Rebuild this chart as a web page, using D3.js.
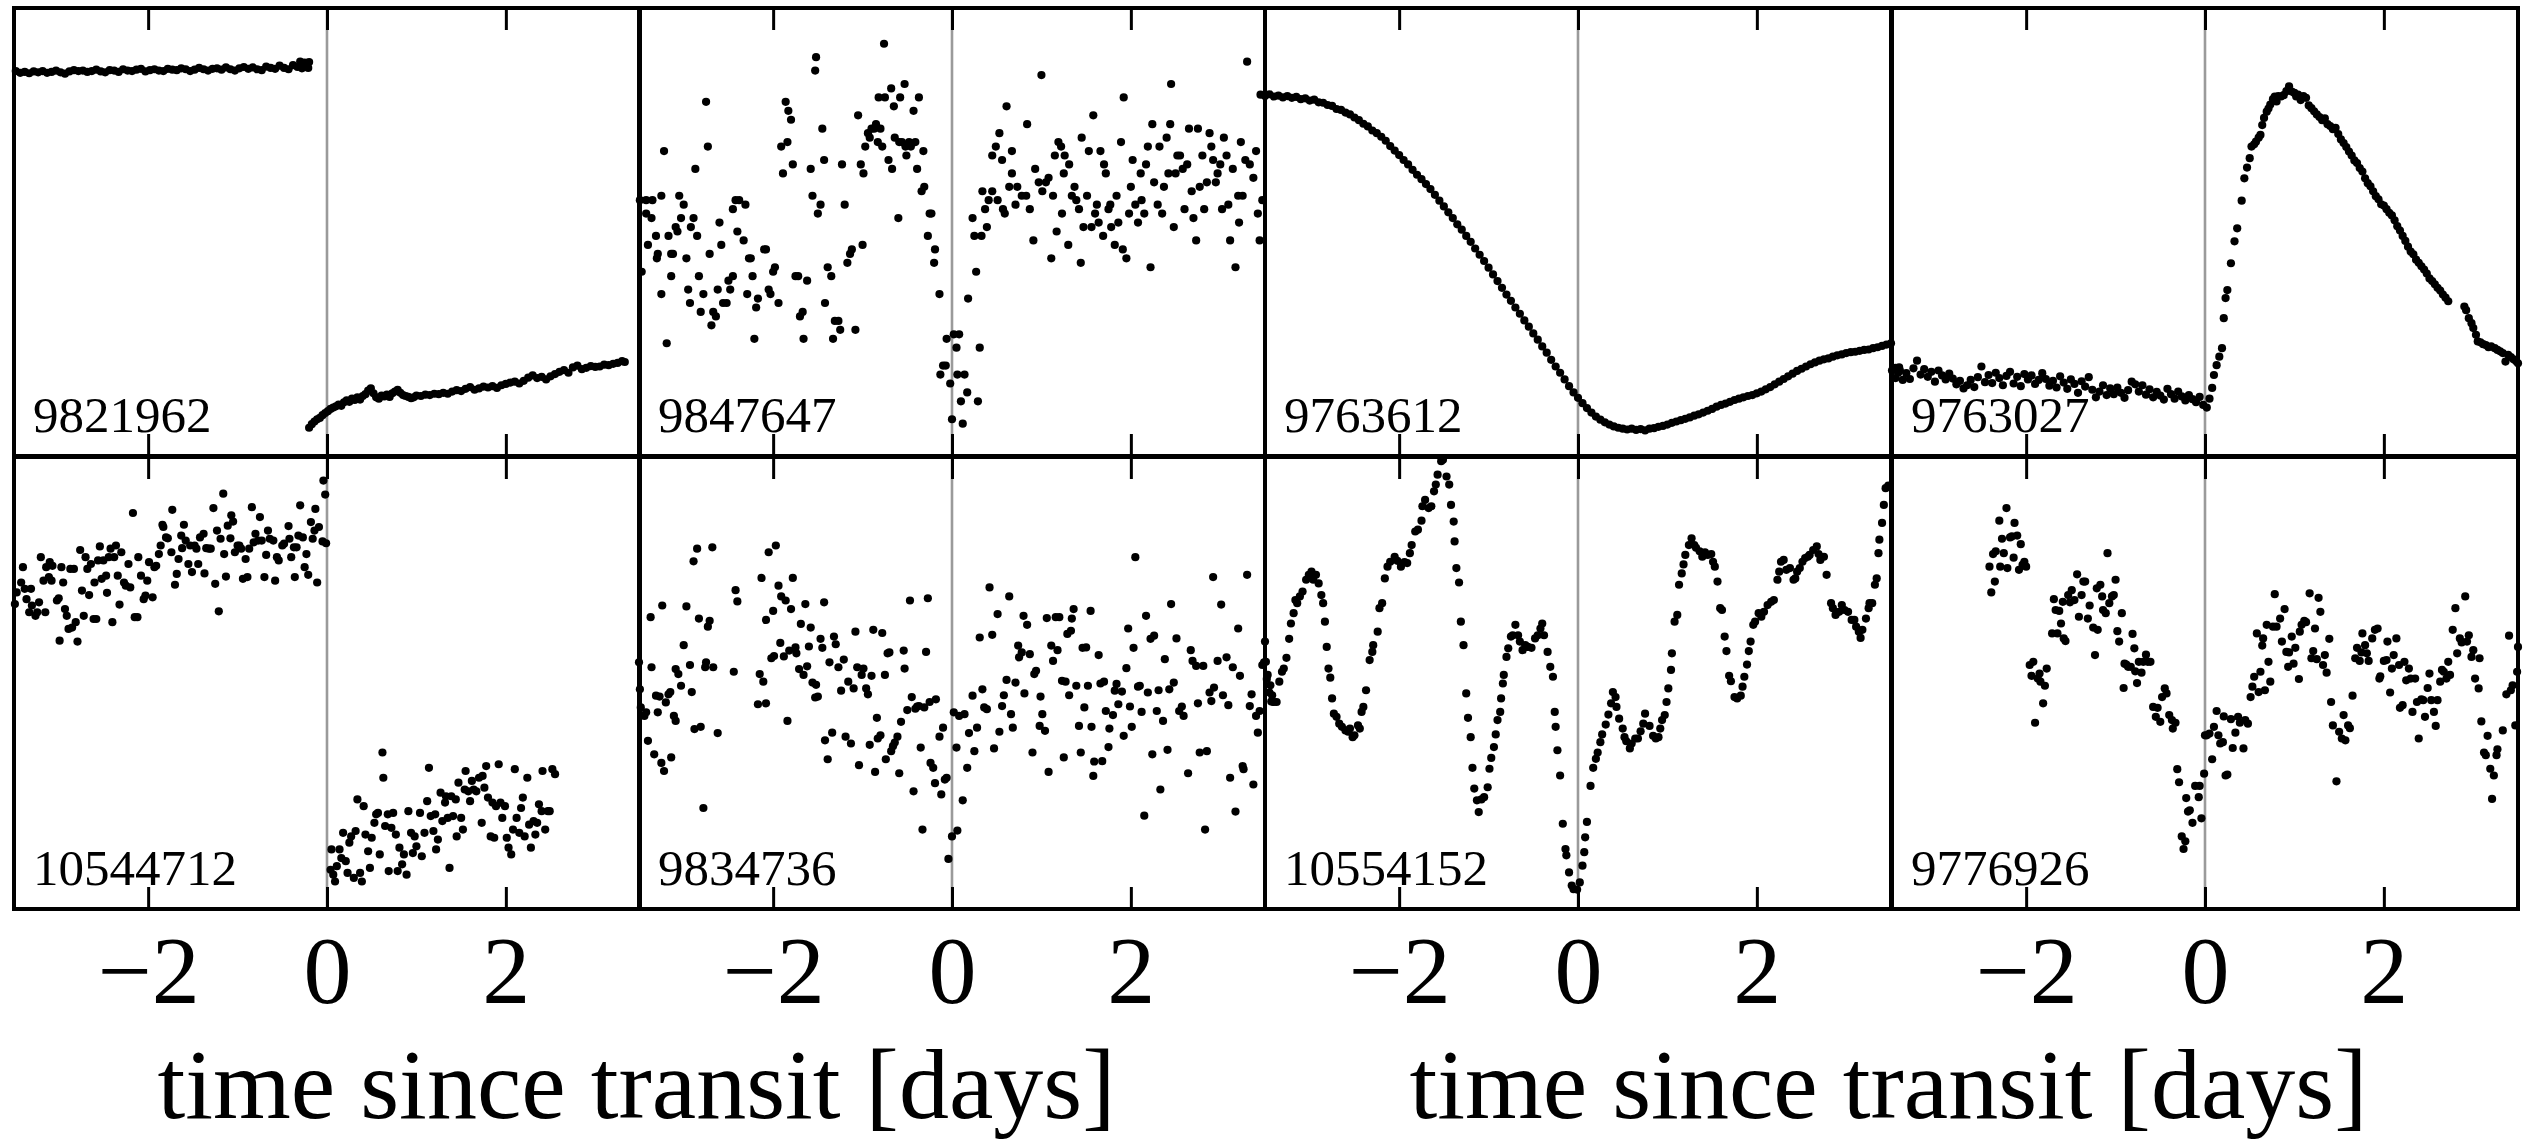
<!DOCTYPE html>
<html><head><meta charset="utf-8">
<script src="https://cdn.jsdelivr.net/npm/d3@7"></script>
<style>
html,body{margin:0;padding:0;background:#fff;}
svg{display:block;}
</style></head>
<body>
<svg id="chart" width="2536" height="1143"></svg>
<script>
// ---------------- DATA ----------------
// x: time since transit [days]; y: normalized flux (0 = panel bottom, 100 = panel top)
const tickValues = [-2, 0, 2];
const xLabel = "time since transit [days]";
const panelIds = ["9821962","9847647","9763612","9763027","10544712","9834736","10554152","9776926"];

const kic9821962 = [
[-3.48,85.9],[-3.43,85.5],[-3.38,85.7],[-3.33,85.4],[-3.28,85.8],[-3.23,85.6],[-3.18,85.9],[-3.13,85.5],[-3.08,85.7],[-3.03,86.0],[-2.98,85.6],[-2.93,85.3],[-2.88,85.8],[-2.83,86.1],[-2.78,85.9],[-2.73,86.0],[-2.68,85.7],[-2.63,85.9],[-2.58,86.2],[-2.53,85.8],[-2.48,85.6],[-2.43,86.1],[-2.38,86.0],[-2.33,85.7],[-2.28,86.3],[-2.23,86.0],[-2.18,85.9],[-2.13,86.2],[-2.08,86.4],[-2.03,85.8],[-1.98,86.1],[-1.93,86.3],[-1.88,86.0],[-1.83,85.9],[-1.78,86.4],[-1.73,86.2],[-1.68,86.1],[-1.63,86.5],[-1.58,86.3],[-1.53,85.9],[-1.48,86.2],[-1.43,86.6],[-1.38,86.3],[-1.33,86.0],[-1.28,86.4],[-1.23,86.5],[-1.18,86.2],[-1.13,86.7],[-1.08,86.3],[-1.03,86.0],[-0.98,86.5],[-0.93,86.8],[-0.88,86.4],[-0.83,86.7],[-0.78,86.3],[-0.73,86.1],[-0.68,86.9],[-0.63,86.6],[-0.58,86.4],[-0.53,87.1],[-0.48,86.6],[-0.43,86.3],[-0.38,87.2],[-0.33,86.8],[-0.30,88.0],[-0.28,86.5],[-0.25,87.8],[-0.23,87.3],[-0.21,86.6],[-0.20,87.9],
[-0.20,6.1],[-0.17,6.9],[-0.14,7.5],[-0.11,8.0],[-0.08,8.3],[-0.05,8.9],[-0.02,9.4],[0.01,9.8],[0.04,10.3],[0.07,10.6],[0.10,10.9],[0.13,11.3],[0.16,11.0],[0.19,11.8],[0.22,12.2],[0.25,11.9],[0.28,12.6],[0.31,12.3],[0.34,12.9],[0.37,12.4],[0.40,13.2],[0.43,13.6],[0.46,14.4],[0.49,14.9],[0.52,13.8],[0.55,12.9],[0.58,12.6],[0.61,13.3],[0.64,13.1],[0.67,13.5],[0.70,13.0],[0.73,13.8],[0.76,14.2],[0.79,14.6],[0.82,13.9],[0.85,13.4],[0.88,13.2],[0.91,13.0],[0.94,12.7],[0.97,12.9],[1.00,13.3],[1.05,13.2],[1.10,13.5],[1.15,13.4],[1.20,13.7],[1.25,13.6],[1.30,13.9],[1.35,13.7],[1.40,14.2],[1.45,14.5],[1.50,14.3],[1.55,14.8],[1.60,15.2],[1.65,14.6],[1.70,14.9],[1.75,15.3],[1.80,15.1],[1.85,15.4],[1.90,15.0],[1.95,15.6],[2.00,15.9],[2.05,16.2],[2.10,16.4],[2.15,16.0],[2.20,16.6],[2.25,17.3],[2.30,17.8],[2.35,17.2],[2.40,17.5],[2.45,16.9],[2.50,17.6],[2.55,18.1],[2.60,18.6],[2.65,19.0],[2.70,18.4],[2.75,19.6],[2.80,20.0],[2.85,19.2],[2.90,19.5],[2.95,19.9],[3.00,19.7],[3.05,19.8],[3.10,20.2],[3.15,20.1],[3.20,20.4],[3.25,20.6],[3.30,21.0],[3.33,20.8]
];

const kic9847647 = [
[-3.49,57],[-3.47,41],[-3.42,57],[-3.35,57],[-3.42,54],[-3.36,53],[-3.40,47],[-3.31,49],[-3.29,45],[-3.30,44],[-3.25,58],[-3.25,36],[-3.22,68],[-3.19,25],[-3.17,49],[-3.14,45],[-3.12,45],[-3.14,40],[-3.09,51],[-3.07,50],[-3.05,58],[-3.03,53],[-3.00,56],[-2.97,44],[-2.95,37],[-2.93,34],[-2.92,51],[-2.89,53],[-2.87,64],[-2.85,49],[-2.83,40],[-2.81,32],[-2.78,36],[-2.75,79],[-2.73,69],[-2.71,45],[-2.69,29],[-2.67,32],[-2.64,31],[-2.62,37],[-2.60,52],[-2.58,47],[-2.56,34],[-2.52,34],[-2.50,39],[-2.48,37],[-2.45,40],[-2.45,55],[-2.42,57],[-2.38,57],[-2.40,50],[-2.33,48],[-2.31,56],[-2.29,36],[-2.27,44],[-2.25,44],[-2.23,40],[-2.21,26],[-2.19,33],[-2.17,35],[-2.10,46],[-2.08,46],[-2.05,37],[-2.03,36],[-2.00,41],[-1.98,42],[-1.94,34],[-1.91,69],[-1.89,63],[-1.86,79],[-1.84,70],[-1.83,77],[-1.80,75],[-1.78,65],[-1.75,40],[-1.72,40],[-1.70,31],[-1.67,32],[-1.66,26],[-1.62,39],[-1.58,64],[-1.56,58],[-1.53,86],[-1.52,89],[-1.50,54],[-1.47,56],[-1.45,73],[-1.43,66],[-1.42,34],[-1.39,42],[-1.35,40],[-1.33,26],[-1.31,30],[-1.27,30],[-1.25,28],[-1.23,65],[-1.20,56],[-1.17,43],[-1.14,45],[-1.12,46],[-1.08,28],[-1.05,76],[-1.02,65],[-1.00,47],[-0.99,63],[-0.97,69],[-0.94,72],[-0.92,71],[-0.90,73],[-0.87,73],[-0.85,74],[-0.83,70],[-0.82,80],[-0.80,73],[-0.78,69],[-0.76,92],[-0.75,80],[-0.71,66],[-0.68,82],[-0.67,64],[-0.65,78],[-0.64,71],[-0.60,53],[-0.59,70],[-0.58,80],[-0.56,70],[-0.53,83],[-0.52,69],[-0.51,67],[-0.48,70],[-0.46,69],[-0.43,77],[-0.41,70],[-0.39,64],[-0.37,80],[-0.34,59],[-0.32,68],[-0.31,60],[-0.27,49],[-0.25,54],[-0.23,54],[-0.20,43],[-0.19,46],[-0.14,36],[-0.13,18],[-0.10,20],[-0.07,20],[-0.06,26],[-0.02,16],[0.00,8],[0.02,27],[0.05,24],[0.06,18],[0.08,27],[0.10,12],[0.12,7],[0.14,18],[0.17,14],[0.18,35],[0.23,53],[0.25,49],[0.27,41],[0.29,12],[0.31,24],[0.33,49],
[0.34,59],[0.37,55],[0.39,51],[0.41,57],[0.45,59],[0.45,67],[0.49,69],[0.51,57],[0.53,72],[0.56,66],[0.57,55],[0.59,54],[0.61,78],[0.64,60],[0.67,68],[0.67,63],[0.71,56],[0.73,60],[0.78,58],[0.83,58],[0.84,74],[0.87,55],[0.91,48],[0.93,64],[0.97,61],[1.00,85],[1.01,59],[1.05,61],[1.08,62],[1.11,44],[1.13,58],[1.15,67],[1.17,50],[1.19,70],[1.22,69],[1.23,54],[1.25,63],[1.26,67],[1.30,47],[1.31,65],[1.34,58],[1.37,60],[1.39,57],[1.42,55],[1.44,43],[1.45,71],[1.47,51],[1.51,58],[1.53,68],[1.56,51],[1.58,76],[1.60,54],[1.62,56],[1.64,52],[1.66,68],[1.69,49],[1.70,65],[1.72,63],[1.75,55],[1.77,56],[1.78,51],[1.82,47],[1.84,58],[1.86,52],[1.89,70],[1.91,46],[1.92,80],[1.95,44],[1.98,54],[2.00,60],[2.02,66],[2.05,56],[2.08,52],[2.11,63],[2.12,57],[2.15,54],[2.17,65],[2.19,69],[2.22,42],[2.24,74],[2.26,61],[2.30,56],[2.32,69],[2.35,54],[2.37,60],[2.40,71],[2.42,63],[2.44,74],[2.45,83],[2.48,51],[2.50,63],[2.52,67],[2.55,67],[2.58,64],[2.60,55],[2.63,65],[2.65,73],[2.68,59],[2.70,53],[2.73,48],[2.75,73],[2.77,60],[2.80,67],[2.82,55],[2.85,61],[2.88,72],[2.90,69],[2.92,66],[2.95,61],[2.97,63],[3.00,65],[3.02,55],[3.04,71],[3.07,67],[3.09,56],[3.11,48],[3.14,64],[3.17,42],[3.20,58],[3.21,52],[3.23,70],[3.25,58],[3.28,66],[3.30,88],[3.33,65],[3.37,62],[3.40,68],[3.42,54],[3.44,48],[3.47,57]
];

const kic9763612 = [
[-3.55,80.6],[-3.50,80.3],[-3.45,80.7],[-3.40,80.2],[-3.35,80.4],[-3.30,80.0],[-3.25,80.3],[-3.20,79.9],[-3.15,80.1],[-3.10,79.6],[-3.05,79.8],[-3.00,79.3],[-2.95,79.5],[-2.90,78.9],[-2.85,78.8],[-2.80,78.3],[-2.75,78.1],[-2.70,77.4],[-2.65,77.2],[-2.60,76.6],[-2.55,76.2],[-2.50,75.5],[-2.45,74.9],[-2.40,74.1],[-2.35,73.5],[-2.30,72.6],[-2.25,72.0],[-2.20,71.2],[-2.15,70.3],[-2.10,69.1],[-2.05,68.1],[-2.00,67.1],[-1.95,66.0],[-1.90,65.0],[-1.85,63.8],[-1.80,62.7],[-1.75,61.7],[-1.70,60.6],[-1.65,59.5],[-1.60,58.2],[-1.55,56.9],[-1.50,55.6],[-1.45,54.3],[-1.40,53.0],[-1.35,51.6],[-1.30,50.4],[-1.25,49.0],[-1.20,47.7],[-1.15,46.2],[-1.10,44.8],[-1.05,43.4],[-1.00,41.9],[-0.95,40.4],[-0.90,38.9],[-0.85,37.4],[-0.80,35.9],[-0.75,34.5],[-0.70,33.0],[-0.65,31.6],[-0.60,30.1],[-0.55,28.7],[-0.50,27.2],[-0.45,25.8],[-0.40,24.3],[-0.35,22.9],[-0.30,21.3],[-0.25,19.8],[-0.20,18.4],[-0.15,16.9],[-0.10,15.4],[-0.05,14.0],[0.00,12.8],[0.05,11.6],[0.10,10.5],[0.15,9.5],[0.20,8.6],[0.25,7.9],[0.30,7.3],[0.35,6.8],[0.40,6.4],[0.45,6.1],[0.50,5.9],[0.55,5.7],[0.60,5.9],[0.65,5.6],[0.70,5.8],[0.75,5.5],[0.80,5.9],[0.85,6.0],[0.90,6.3],[0.95,6.5],[1.00,6.8],[1.05,7.2],[1.10,7.5],[1.15,7.8],[1.20,8.1],[1.25,8.4],[1.30,8.8],[1.35,9.1],[1.40,9.5],[1.45,9.9],[1.50,10.3],[1.55,10.8],[1.60,11.2],[1.65,11.5],[1.70,11.9],[1.75,12.3],[1.80,12.6],[1.85,12.9],[1.90,13.2],[1.95,13.4],[2.00,13.8],[2.05,14.2],[2.10,14.7],[2.15,15.2],[2.20,15.8],[2.25,16.4],[2.30,17.0],[2.35,17.6],[2.40,18.2],[2.45,18.8],[2.50,19.3],[2.55,19.8],[2.60,20.3],[2.65,20.7],[2.70,21.1],[2.75,21.4],[2.80,21.6],[2.85,22.0],[2.90,22.3],[2.95,22.5],[3.00,22.8],[3.05,23.0],[3.10,23.1],[3.15,23.3],[3.20,23.5],[3.25,23.6],[3.30,23.9],[3.35,24.1],[3.40,24.4],[3.45,24.7],[3.50,25.0],[3.55,19.5],[3.58,18.4],[3.60,18.9]
];

const kic9763027 = [
[-3.50,18.9],[-3.46,17.2],[-3.42,19.6],[-3.38,16.8],[-3.34,18.3],[-3.30,17.0],[-3.26,19.4],[-3.22,21.1],[-3.18,18.0],[-3.14,19.2],[-3.10,17.5],[-3.06,18.6],[-3.02,16.4],[-2.98,18.9],[-2.94,17.8],[-2.90,16.9],[-2.86,18.2],[-2.82,17.1],[-2.78,15.8],[-2.74,16.6],[-2.70,14.9],[-2.66,15.6],[-2.62,16.8],[-2.58,15.2],[-2.54,17.4],[-2.50,19.8],[-2.46,16.3],[-2.42,17.9],[-2.38,16.1],[-2.34,18.4],[-2.30,17.2],[-2.26,15.6],[-2.22,17.7],[-2.18,18.6],[-2.14,16.0],[-2.10,17.5],[-2.06,15.4],[-2.02,18.1],[-1.98,16.9],[-1.94,17.8],[-1.90,15.9],[-1.86,16.8],[-1.82,18.3],[-1.78,17.0],[-1.74,15.5],[-1.70,16.6],[-1.66,15.1],[-1.62,17.6],[-1.58,16.2],[-1.54,14.8],[-1.50,16.9],[-1.46,15.9],[-1.42,13.9],[-1.38,16.5],[-1.34,15.3],[-1.30,17.4],[-1.26,14.6],[-1.22,12.9],[-1.18,14.2],[-1.14,15.6],[-1.10,13.4],[-1.06,14.9],[-1.02,13.6],[-0.98,15.1],[-0.94,13.9],[-0.90,12.8],[-0.86,14.5],[-0.82,16.4],[-0.78,15.8],[-0.74,14.2],[-0.70,15.6],[-0.66,13.5],[-0.62,14.7],[-0.58,12.9],[-0.54,14.1],[-0.50,13.3],[-0.46,12.4],[-0.42,14.8],[-0.38,13.6],[-0.34,12.6],[-0.30,14.2],[-0.26,13.1],[-0.22,12.2],[-0.18,13.4],[-0.14,12.5],[-0.10,11.8],[-0.06,13.0],[-0.02,11.2],[0.02,10.6],[0.05,12.6],
[0.08,15.0],[0.10,17.9],[0.13,20.1],[0.16,22.0],[0.19,23.9],[0.21,30.6],[0.23,35.1],[0.25,36.9],[0.29,42.9],[0.33,47.8],[0.36,50.7],[0.41,56.9],[0.44,61.9],[0.47,64.3],[0.50,66.4],[0.52,69.0],[0.55,69.5],[0.57,70.1],[0.60,71.0],[0.62,71.6],[0.64,73.8],[0.66,75.4],[0.69,76.8],[0.71,77.5],[0.73,78.4],[0.76,79.6],[0.78,80.2],[0.80,79.1],[0.82,80.3],[0.85,80.2],[0.88,80.5],[0.91,81.4],[0.94,82.5],[0.97,81.3],[1.00,81.0],[1.02,80.2],[1.04,80.6],[1.07,79.4],[1.10,80.3],[1.13,79.9],[1.16,78.2],[1.19,77.6],[1.22,76.9],[1.25,76.2],[1.28,75.6],[1.31,74.9],[1.34,75.3],[1.37,74.0],[1.40,73.6],[1.43,72.9],[1.46,73.2],[1.49,71.8],[1.52,70.6],[1.55,69.8],[1.58,68.9],[1.61,67.9],[1.64,67.0],[1.67,65.9],[1.70,65.3],[1.73,64.2],[1.76,63.4],[1.79,61.9],[1.82,60.8],[1.85,60.1],[1.88,59.0],[1.91,57.9],[1.94,57.2],[1.97,56.1],[2.00,55.8],[2.03,55.0],[2.06,54.2],[2.09,53.6],[2.12,52.5],[2.15,51.2],[2.18,50.2],[2.21,49.0],[2.24,47.9],[2.27,46.6],[2.30,45.5],[2.33,44.9],[2.36,43.7],[2.39,43.0],[2.42,42.2],[2.45,41.5],[2.48,40.6],[2.51,39.5],[2.54,38.9],[2.57,38.2],[2.60,37.4],[2.63,36.8],[2.66,35.9],[2.69,35.2],[2.72,34.4],[2.90,33.2],[2.92,32.4],[2.95,30.6],[2.98,29.5],[3.00,28.4],[3.03,26.9],[3.05,25.4],[3.08,25.2],[3.11,24.8],[3.14,24.6],[3.17,24.1],[3.20,24.3],[3.24,23.9],[3.27,23.5],[3.30,23.2],[3.33,22.8],[3.36,20.9],[3.39,22.4],[3.42,21.9],[3.45,21.4],[3.48,21.0],[3.50,20.5]
];

const kic10544712 = [
[-3.49,67.6],[-3.47,70.2],[-3.42,72.4],[-3.40,75.8],[-3.38,71.0],[-3.36,68.7],[-3.33,65.8],[-3.31,71.0],[-3.30,67.3],[-3.26,65.0],[-3.24,65.8],[-3.22,68.0],[-3.20,78.0],[-3.17,72.8],[-3.15,65.8],[-3.14,75.8],[-3.11,73.6],[-3.10,76.9],[-3.08,72.8],[-3.07,76.1],[-3.02,68.4],[-3.00,68.9],[-2.99,59.5],[-2.97,75.8],[-2.95,72.4],[-2.93,66.5],[-2.91,65.0],[-2.89,62.1],[-2.87,75.4],[-2.85,62.4],[-2.83,75.4],[-2.81,63.6],[-2.79,59.3],[-2.76,79.6],[-2.74,70.6],[-2.72,65.0],[-2.70,78.0],[-2.68,75.4],[-2.66,69.6],[-2.64,76.5],[-2.61,64.3],[-2.60,72.4],[-2.58,64.3],[-2.56,77.3],[-2.54,80.4],[-2.52,73.2],[-2.50,77.3],[-2.47,73.9],[-2.46,70.1],[-2.44,78.0],[-2.42,79.9],[-2.40,63.6],[-2.38,78.0],[-2.36,80.6],[-2.34,73.9],[-2.32,67.5],[-2.30,79.1],[-2.27,72.4],[-2.25,71.7],[-2.22,76.5],[-2.20,71.3],[-2.17,87.8],[-2.15,64.7],[-2.12,64.7],[-2.11,78.0],[-2.08,73.9],[-2.05,68.7],[-2.03,69.5],[-2.01,72.8],[-1.99,76.9],[-1.95,69.1],[-1.93,75.8],[-1.91,76.1],[-1.88,78.7],[-1.86,80.6],[-1.84,85.2],[-1.83,84.7],[-1.80,82.4],[-1.78,82.2],[-1.74,79.1],[-1.73,88.5],[-1.70,71.9],[-1.68,74.3],[-1.66,77.6],[-1.63,82.8],[-1.62,80.0],[-1.60,85.2],[-1.58,81.7],[-1.55,76.5],[-1.53,80.6],[-1.51,74.7],[-1.48,80.6],[-1.46,79.9],[-1.44,76.5],[-1.42,82.4],[-1.38,83.2],[-1.37,74.4],[-1.35,80.0],[-1.32,79.9],[-1.30,79.9],[-1.27,88.9],[-1.25,72.1],[-1.23,83.9],[-1.21,66.0],[-1.19,82.1],[-1.16,92.1],[-1.15,78.7],[-1.13,73.7],[-1.11,85.0],[-1.08,82.2],[-1.07,87.3],[-1.05,85.9],[-1.03,79.1],[-1.00,80.6],[-0.98,80.6],[-0.96,79.9],[-0.94,73.2],[-0.91,77.6],[-0.89,73.6],[-0.87,79.9],[-0.84,89.1],[-0.82,81.3],[-0.80,83.2],[-0.77,81.7],[-0.75,86.9],[-0.73,81.7],[-0.70,73.6],[-0.68,78.5],[-0.66,83.9],[-0.64,82.1],[-0.60,81.7],[-0.58,72.8],[-0.56,78.0],[-0.54,77.3],[-0.50,80.6],[-0.48,81.0],[-0.43,84.9],[-0.42,82.1],[-0.40,78.0],[-0.37,80.2],[-0.36,73.6],[-0.34,80.2],[-0.32,82.8],[-0.30,89.5],[-0.27,82.4],[-0.25,75.8],[-0.23,78.7],[-0.21,74.1],[-0.18,85.8],[-0.16,82.1],[-0.14,83.9],[-0.13,88.7],[-0.11,72.4],[-0.09,84.7],[-0.05,81.5],[-0.04,95.0],[-0.02,91.9],[-0.01,81.1],
[0.04,8.7],[0.05,13.2],[0.07,7.6],[0.09,6.1],[0.11,9.5],[0.14,13.2],[0.16,11.3],[0.18,16.9],[0.21,10.6],[0.23,8.0],[0.25,14.7],[0.27,16.1],[0.30,6.9],[0.32,17.3],[0.34,24.3],[0.37,8.0],[0.39,6.1],[0.41,22.8],[0.43,16.5],[0.46,12.8],[0.48,9.1],[0.50,15.8],[0.53,19.1],[0.55,21.0],[0.57,21.3],[0.59,12.1],[0.62,34.7],[0.63,29.1],[0.65,18.4],[0.68,21.0],[0.69,8.4],[0.72,18.0],[0.74,21.3],[0.77,16.5],[0.79,8.4],[0.81,13.6],[0.84,9.9],[0.86,12.1],[0.89,7.6],[0.91,21.7],[0.94,16.9],[0.96,12.4],[0.98,16.1],[1.00,13.9],[1.04,21.3],[1.06,11.7],[1.09,16.9],[1.12,23.9],[1.14,31.3],[1.16,20.6],[1.19,17.3],[1.21,21.0],[1.22,13.2],[1.24,15.4],[1.27,25.8],[1.29,19.5],[1.32,23.6],[1.33,25.0],[1.35,20.2],[1.37,9.1],[1.39,25.0],[1.41,20.6],[1.44,24.3],[1.45,16.1],[1.47,28.0],[1.50,20.2],[1.52,17.6],[1.54,26.5],[1.55,30.6],[1.58,26.1],[1.60,23.9],[1.62,28.4],[1.64,26.5],[1.67,26.1],[1.70,29.1],[1.73,19.1],[1.74,29.5],[1.76,26.9],[1.78,31.7],[1.80,24.7],[1.83,16.1],[1.85,23.6],[1.87,15.8],[1.89,22.8],[1.92,32.1],[1.94,23.6],[1.96,20.2],[1.99,22.8],[2.01,15.8],[2.03,13.6],[2.06,12.1],[2.08,17.6],[2.10,31.0],[2.12,20.2],[2.15,16.9],[2.17,22.4],[2.19,24.7],[2.21,16.1],[2.24,29.1],[2.26,18.7],[2.28,13.6],[2.31,19.5],[2.33,16.5],[2.35,19.1],[2.37,23.2],[2.40,21.7],[2.41,30.6],[2.44,17.6],[2.47,21.7],[2.49,21.7],[2.52,31.0],[2.55,29.9]
];

const kic9834736 = [
[-3.50,54.7],[-3.49,48.7],[-3.48,44.7],[-3.44,42.8],[-3.42,43.6],[-3.40,37.3],[-3.37,64.7],[-3.36,53.6],[-3.33,34.3],[-3.31,47.3],[-3.29,43.6],[-3.27,47.1],[-3.25,32.4],[-3.24,67.3],[-3.22,30.6],[-3.20,45.8],[-3.17,47.6],[-3.15,48.1],[-3.14,33.6],[-3.11,42.8],[-3.09,41.7],[-3.09,53.2],[-3.06,52.1],[-3.03,49.5],[-3.00,58.5],[-2.97,67.1],[-2.93,54.1],[-2.91,48.1],[-2.89,77.1],[-2.88,39.9],[-2.85,79.9],[-2.83,64.4],[-2.81,40.4],[-2.78,22.4],[-2.76,53.6],[-2.75,54.7],[-2.73,62.6],[-2.71,63.9],[-2.68,80.2],[-2.67,53.6],[-2.62,39.0],[-2.44,52.6],[-2.42,70.7],[-2.40,68.2],[-2.17,45.4],[-2.15,52.1],[-2.13,73.4],[-2.11,50.4],[-2.08,64.1],[-2.08,45.6],[-2.05,79.1],[-2.02,55.6],[-2.00,66.1],[-1.99,56.1],[-1.97,80.6],[-1.94,71.7],[-1.92,59.0],[-1.91,69.3],[-1.88,56.0],[-1.86,68.4],[-1.84,41.7],[-1.82,57.3],[-1.80,66.5],[-1.78,73.4],[-1.75,58.0],[-1.74,56.7],[-1.71,53.2],[-1.69,63.2],[-1.66,51.9],[-1.64,67.6],[-1.62,53.8],[-1.60,58.2],[-1.58,62.4],[-1.56,50.2],[-1.53,46.9],[-1.52,49.7],[-1.50,47.1],[-1.47,59.9],[-1.45,57.9],[-1.43,68.0],[-1.42,37.4],[-1.39,33.2],[-1.37,54.7],[-1.34,39.1],[-1.32,60.4],[-1.30,58.7],[-1.27,53.6],[-1.24,48.4],[-1.21,55.3],[-1.19,38.2],[-1.16,50.4],[-1.13,36.7],[-1.10,48.9],[-1.08,61.5],[-1.06,53.6],[-1.04,31.9],[-1.01,51.9],[-0.99,53.3],[-0.96,48.9],[-0.94,47.6],[-0.92,36.4],[-0.90,51.7],[-0.88,61.9],[-0.86,30.4],[-0.84,42.4],[-0.83,37.8],[-0.80,38.5],[-0.78,61.2],[-0.75,51.9],[-0.74,33.2],[-0.72,56.7],[-0.70,56.9],[-0.68,35.0],[-0.66,36.1],[-0.64,36.9],[-0.61,38.2],[-0.59,30.1],[-0.57,41.5],[-0.54,57.3],[-0.53,53.3],[-0.50,44.1],[-0.47,68.4],[-0.45,47.0],[-0.43,26.1],[-0.41,44.4],[-0.39,44.9],[-0.37,45.0],[-0.35,35.8],[-0.33,17.6],[-0.31,44.7],[-0.29,57.0],[-0.27,68.9],[-0.25,45.9],[-0.24,32.4],[-0.21,31.3],[-0.19,27.9],[-0.18,46.5],[-0.14,38.2],[-0.12,25.4],[-0.10,40.2],[-0.08,28.7],[-0.06,29.1],[-0.04,11.1],[0.00,16.1],[0.02,43.6],[0.05,35.8],[0.06,17.4],[0.08,42.8],[0.12,24.1],[0.14,43.2],[0.17,31.3],[0.19,39.0],[0.23,47.3],[0.25,35.0],[0.28,40.2],[0.31,60.2],[0.34,48.7],[0.36,44.7],[0.39,44.3],[0.42,71.3],[0.45,60.8],[0.47,35.6],[0.51,65.4],[0.53,39.3],[0.56,45.0],[0.58,47.4],[0.61,50.8],[0.64,69.3],[0.66,43.2],[0.68,40.2],[0.71,50.2],[0.74,58.4],[0.75,55.8],[0.78,56.9],[0.80,65.0],[0.81,47.8],[0.84,63.0],[0.87,56.5],[0.90,34.7],[0.92,52.1],[0.94,52.8],[0.98,40.6],[0.99,47.1],[1.01,43.2],[1.04,39.5],[1.06,64.5],[1.08,30.4],[1.11,58.4],[1.13,55.0],[1.16,64.7],[1.18,57.4],[1.20,64.7],[1.23,50.6],[1.25,33.6],[1.27,50.4],[1.29,61.0],[1.31,47.4],[1.33,61.7],[1.34,64.4],[1.36,66.5],[1.39,49.5],[1.42,40.6],[1.44,34.7],[1.46,57.9],[1.48,44.7],[1.50,58.0],[1.52,49.5],[1.55,66.1],[1.56,40.4],[1.58,29.5],[1.59,32.7],[1.64,56.3],[1.66,50.0],[1.68,32.8],[1.70,50.4],[1.72,43.9],[1.75,35.9],[1.76,40.0],[1.80,43.0],[1.82,48.4],[1.84,49.9],[1.86,45.4],[1.90,48.2],[1.92,38.4],[1.95,53.4],[1.97,62.2],[1.99,44.9],[2.01,40.4],[2.03,57.9],[2.05,78.0],[2.08,49.3],[2.10,49.5],[2.12,43.7],[2.15,20.7],[2.17,65.0],[2.19,48.0],[2.22,59.9],[2.24,34.3],[2.26,60.6],[2.29,43.9],[2.31,48.5],[2.33,26.5],[2.36,41.7],[2.38,55.4],[2.41,35.3],[2.43,48.7],[2.45,67.6],[2.48,50.2],[2.51,60.0],[2.54,43.9],[2.57,44.9],[2.59,42.8],[2.64,30.1],[2.67,57.4],[2.69,55.0],[2.73,53.9],[2.75,45.6],[2.77,34.7],[2.81,53.9],[2.83,17.6],[2.85,35.0],[2.88,48.0],[2.90,46.1],[2.92,73.6],[2.93,49.1],[2.97,55.0],[3.01,67.5],[3.03,47.4],[3.07,55.8],[3.09,45.2],[3.11,29.1],[3.14,53.6],[3.17,21.6],[3.20,62.2],[3.22,51.7],[3.25,31.7],[3.26,31.0],[3.30,74.1],[3.33,45.0],[3.35,47.6],[3.37,27.6],[3.40,42.8],[3.42,39.1],[3.44,43.9],[3.47,54.1],[3.49,54.7],[3.52,51.0],[3.55,48.0],[3.57,46.0]
];

const kic10554152 = [
[-3.50,59.3],[-3.49,54.8],[-3.47,51.9],[-3.44,49.6],[-3.42,47.4],[-3.40,45.9],[-3.37,45.9],[-3.34,50.4],[-3.31,52.6],[-3.29,53.3],[-3.26,55.7],[-3.23,59.9],[-3.21,63.3],[-3.18,65.6],[-3.16,68.5],[-3.14,67.8],[-3.11,69.3],[-3.08,70.4],[-3.04,73.0],[-3.01,74.1],[-2.98,74.8],[-2.96,73.0],[-2.93,74.1],[-2.90,72.2],[-2.87,69.6],[-2.85,67.8],[-2.83,63.7],[-2.81,58.1],[-2.79,53.3],[-2.77,51.3],[-2.75,46.7],[-2.73,43.3],[-2.70,42.6],[-2.67,41.1],[-2.64,40.4],[-2.60,39.6],[-2.57,39.3],[-2.55,40.0],[-2.52,38.1],[-2.50,38.5],[-2.46,40.7],[-2.44,40.0],[-2.42,43.7],[-2.40,44.8],[-2.37,48.5],[-2.33,55.2],[-2.30,57.0],[-2.29,58.5],[-2.24,61.5],[-2.22,66.7],[-2.19,67.8],[-2.16,73.3],[-2.13,75.9],[-2.10,77.0],[-2.05,78.1],[-2.02,77.2],[-1.98,75.9],[-1.94,76.9],[-1.91,76.7],[-1.88,78.9],[-1.86,80.7],[-1.82,83.7],[-1.79,84.1],[-1.75,86.1],[-1.74,89.3],[-1.71,90.7],[-1.67,88.9],[-1.64,89.3],[-1.61,92.6],[-1.59,94.1],[-1.57,96.3],[-1.53,99.3],[-1.51,99.6],[-1.47,95.9],[-1.44,94.1],[-1.42,89.6],[-1.39,85.9],[-1.38,81.5],[-1.36,75.6],[-1.33,72.4],[-1.31,63.7],[-1.28,58.5],[-1.25,47.8],[-1.23,42.4],[-1.20,38.1],[-1.18,31.3],[-1.16,26.7],[-1.13,24.1],[-1.11,21.5],[-1.08,24.3],[-1.05,24.8],[-1.01,27.0],[-0.99,31.1],[-0.97,33.5],[-0.94,35.9],[-0.92,38.7],[-0.90,41.9],[-0.87,43.7],[-0.86,46.7],[-0.84,50.0],[-0.83,51.9],[-0.80,55.9],[-0.78,57.8],[-0.75,60.4],[-0.73,60.7],[-0.70,63.0],[-0.67,60.7],[-0.65,59.3],[-0.62,57.4],[-0.59,58.5],[-0.56,58.1],[-0.52,57.9],[-0.48,60.0],[-0.45,60.7],[-0.42,62.2],[-0.40,63.3],[-0.38,60.7],[-0.34,57.0],[-0.31,53.7],[-0.28,51.5],[-0.26,43.7],[-0.25,40.4],[-0.23,35.2],[-0.20,29.6],[-0.17,18.9],[-0.14,13.3],[-0.13,11.9],[-0.10,8.1],[-0.07,5.2],[-0.05,4.4],[-0.01,4.3],[0.02,5.9],[0.05,9.6],[0.07,12.6],[0.08,15.9],[0.10,19.3],[0.14,27.3],[0.17,31.3],[0.20,33.3],[0.22,34.7],[0.25,37.0],[0.27,38.7],[0.31,40.9],[0.34,43.1],[0.37,45.6],[0.39,48.1],[0.42,47.0],[0.43,44.8],[0.46,42.2],[0.50,40.0],[0.52,38.1],[0.54,37.2],[0.58,35.6],[0.60,36.7],[0.64,37.8],[0.67,37.8],[0.70,39.4],[0.73,41.1],[0.75,43.3],[0.80,40.6],[0.84,38.4],[0.87,37.8],[0.90,38.1],[0.92,40.0],[0.94,41.9],[0.97,43.0],[0.99,45.9],[1.01,48.9],[1.04,53.0],[1.05,56.7],[1.08,63.7],[1.11,65.2],[1.13,71.9],[1.16,74.4],[1.18,76.4],[1.20,78.5],[1.24,80.7],[1.27,82.2],[1.30,80.7],[1.32,80.1],[1.36,79.3],[1.39,78.1],[1.42,79.1],[1.45,78.5],[1.49,78.7],[1.51,77.0],[1.53,75.9],[1.56,72.6],[1.59,66.7],[1.61,66.3],[1.64,60.4],[1.66,57.2],[1.69,51.7],[1.71,50.5],[1.75,47.0],[1.78,46.7],[1.82,47.3],[1.84,49.3],[1.86,51.5],[1.89,54.2],[1.91,57.2],[1.93,59.3],[1.96,63.0],[1.98,63.7],[2.02,65.6],[2.05,64.8],[2.08,65.9],[2.12,67.4],[2.16,68.1],[2.19,68.5],[2.23,73.0],[2.25,74.8],[2.27,77.0],[2.30,77.4],[2.33,75.2],[2.37,75.6],[2.41,73.0],[2.43,73.3],[2.45,74.8],[2.48,75.6],[2.51,77.0],[2.54,77.8],[2.57,78.1],[2.59,78.5],[2.63,79.6],[2.67,80.4],[2.69,78.7],[2.71,77.4],[2.75,78.1],[2.78,74.1],[2.83,67.8],[2.85,66.7],[2.88,65.2],[2.92,65.9],[2.95,67.4],[2.98,66.3],[3.02,65.9],[3.06,64.1],[3.09,64.1],[3.11,62.6],[3.14,61.5],[3.16,60.1],[3.18,61.9],[3.22,64.4],[3.25,66.7],[3.26,67.8],[3.29,67.8],[3.32,71.9],[3.34,73.3],[3.36,78.9],[3.37,81.9],[3.40,85.6],[3.42,89.6],[3.44,93.3],[3.47,93.9]
];

const kic9776926 = [
[-2.41,75.9],[-2.39,70.2],[-2.37,78.7],[-2.35,72.6],[-2.34,79.3],[-2.30,86.1],[-2.29,75.9],[-2.27,82.1],[-2.25,78.9],[-2.22,88.9],[-2.21,75.6],[-2.18,82.4],[-2.16,82.6],[-2.14,77.9],[-2.13,85.6],[-2.10,82.8],[-2.08,75.2],[-2.06,80.9],[-2.04,76.3],[-2.02,77.0],[-2.00,75.9],[-1.96,54.1],[-1.94,51.7],[-1.92,54.8],[-1.90,41.3],[-1.87,51.1],[-1.85,52.2],[-1.84,50.4],[-1.81,45.6],[-1.79,49.5],[-1.77,53.3],[-1.71,61.1],[-1.69,68.7],[-1.67,66.3],[-1.65,61.1],[-1.63,66.1],[-1.61,63.3],[-1.59,68.1],[-1.58,60.0],[-1.56,59.4],[-1.53,69.6],[-1.51,68.0],[-1.49,70.7],[-1.46,68.5],[-1.43,74.2],[-1.41,64.8],[-1.38,69.6],[-1.36,72.6],[-1.34,72.6],[-1.31,64.4],[-1.29,67.3],[-1.25,62.4],[-1.23,56.3],[-1.21,71.1],[-1.20,61.9],[-1.17,71.9],[-1.15,69.3],[-1.14,66.3],[-1.11,65.6],[-1.09,78.9],[-1.07,67.8],[-1.04,69.3],[-1.02,69.6],[-1.00,73.0],[-0.98,61.6],[-0.96,59.3],[-0.93,65.6],[-0.91,49.0],[-0.90,54.4],[-0.88,54.2],[-0.86,53.7],[-0.83,53.7],[-0.81,61.0],[-0.79,57.8],[-0.78,52.7],[-0.76,50.1],[-0.74,54.8],[-0.71,52.4],[-0.69,54.8],[-0.66,56.4],[-0.64,54.8],[-0.61,54.8],[-0.58,44.8],[-0.55,42.6],[-0.53,44.6],[-0.50,41.5],[-0.48,47.0],[-0.45,48.9],[-0.43,47.8],[-0.40,43.0],[-0.37,41.9],[-0.36,40.0],[-0.33,41.3],[-0.31,31.0],[-0.29,28.1],[-0.26,16.1],[-0.24,13.3],[-0.22,15.0],[-0.21,24.6],[-0.19,21.6],[-0.17,21.9],[-0.14,19.1],[-0.11,27.3],[-0.07,24.8],[-0.06,27.3],[-0.04,20.1],[-0.01,30.0],[0.00,38.5],[0.02,38.5],[0.05,38.9],[0.08,33.2],[0.10,40.4],[0.13,43.9],[0.15,38.5],[0.17,36.7],[0.20,37.0],[0.21,42.7],[0.23,29.6],[0.25,29.8],[0.29,42.1],[0.31,35.7],[0.34,39.1],[0.37,42.6],[0.39,41.3],[0.43,35.6],[0.45,41.9],[0.48,41.1],[0.51,47.0],[0.53,49.3],[0.55,51.5],[0.58,61.1],[0.60,48.1],[0.62,52.6],[0.64,58.4],[0.65,60.0],[0.67,48.5],[0.69,63.0],[0.71,54.8],[0.73,50.4],[0.76,62.6],[0.78,69.8],[0.80,62.6],[0.84,64.4],[0.86,59.3],[0.89,66.5],[0.91,57.0],[0.93,53.7],[0.94,56.9],[0.97,60.4],[0.99,54.4],[1.01,57.9],[1.05,51.0],[1.06,61.5],[1.08,63.0],[1.11,63.9],[1.13,63.6],[1.17,70.0],[1.19,55.6],[1.21,57.2],[1.23,62.2],[1.25,55.4],[1.27,69.0],[1.29,65.9],[1.32,54.1],[1.34,56.3],[1.36,52.4],[1.39,59.9],[1.41,45.9],[1.43,40.7],[1.47,28.3],[1.50,39.3],[1.53,37.8],[1.55,43.0],[1.57,37.4],[1.60,40.7],[1.62,40.1],[1.65,47.3],[1.68,55.6],[1.70,57.9],[1.73,55.0],[1.75,56.9],[1.76,61.1],[1.79,58.5],[1.81,56.7],[1.83,55.0],[1.87,60.0],[1.90,61.9],[1.93,62.2],[1.95,51.1],[1.96,51.6],[2.00,55.0],[2.03,55.2],[2.04,59.3],[2.07,48.0],[2.09,53.3],[2.11,56.3],[2.14,60.0],[2.17,54.1],[2.18,44.6],[2.21,45.2],[2.23,54.8],[2.25,50.7],[2.28,53.3],[2.30,51.1],[2.32,43.7],[2.35,51.1],[2.37,45.9],[2.39,37.8],[2.42,46.5],[2.44,46.3],[2.46,42.6],[2.49,49.0],[2.51,52.2],[2.53,46.3],[2.56,43.7],[2.58,40.6],[2.60,46.3],[2.63,50.4],[2.65,53.0],[2.67,52.6],[2.70,51.1],[2.72,54.8],[2.74,51.9],[2.77,61.9],[2.80,66.7],[2.82,56.7],[2.85,60.0],[2.87,59.1],[2.91,69.3],[2.93,59.3],[2.95,60.7],[2.98,55.9],[3.00,57.4],[3.02,51.1],[3.06,48.9],[3.07,55.6],[3.09,41.6],[3.12,34.7],[3.14,34.1],[3.16,38.4],[3.19,31.1],[3.21,24.4],[3.23,29.6],[3.26,34.1],[3.27,35.4],[3.33,39.6],[3.37,47.6],[3.40,60.6],[3.42,48.5],[3.44,49.6],[3.47,40.7],[3.49,52.6],[3.50,58.1]
];

const panelData = [kic9821962, kic9847647, kic9763612, kic9763027, kic10544712, kic9834736, kic10554152, kic9776926];

// ---------------- LAYOUT ----------------
const FONT = "'Liberation Serif','Times New Roman',serif";
const svg = d3.select("#chart");
svg.append("rect").attr("width",2536).attr("height",1143).attr("fill","#fff");

const colLeft = [14, 639, 1265, 1892];
const panelW = 626;
const rowTop = [8, 457];
const rowBot = [456, 909];
const rowRange = [[455, 8], [909, 458]];
const fmtTick = d3.format("d");   // uses the U+2212 minus sign

const gUnder = svg.append("g");
const gDots = svg.append("g");
const gOver = svg.append("g");

panelIds.forEach((id, i) => {
  const row = Math.floor(i / 4), col = i % 4;
  const x = d3.scaleLinear().domain([-3.5, 3.5]).range([colLeft[col], colLeft[col] + panelW]);
  const y = d3.scaleLinear().domain([0, 100]).range(rowRange[row]);
  const top = rowTop[row], bot = rowBot[row];

  // zero (transit) line
  gUnder.append("line")
    .attr("x1", x(0)).attr("x2", x(0)).attr("y1", top).attr("y2", bot)
    .attr("stroke", "#9a9a9a").attr("stroke-width", 2.6);

  // points
  gDots.append("g").selectAll("circle").data(panelData[i]).join("circle")
    .attr("cx", d => x(d[0])).attr("cy", d => y(d[1]))
    .attr("r", 4.1).attr("fill", "#000");

  // inward ticks on top and bottom
  const gt = gOver.append("g").attr("transform", `translate(0,${top})`)
    .call(d3.axisBottom(x).tickValues(tickValues).tickSize(22).tickFormat(""));
  gt.select(".domain").remove();
  gt.selectAll("line").attr("stroke", "#000").attr("stroke-width", 3);
  const gb = gOver.append("g").attr("transform", `translate(0,${bot})`)
    .call(d3.axisTop(x).tickValues(tickValues).tickSize(22).tickFormat(""));
  gb.select(".domain").remove();
  gb.selectAll("line").attr("stroke", "#000").attr("stroke-width", 3);

  // frame
  gOver.append("rect")
    .attr("x", colLeft[col]).attr("y", top).attr("width", panelW).attr("height", bot - top)
    .attr("fill", "none").attr("stroke", "#000").attr("stroke-width", 4);

  // KIC id label
  gOver.append("text")
    .attr("x", colLeft[col] + 19).attr("y", bot - 24)
    .attr("font-family", FONT).attr("font-size", 51).attr("fill", "#000")
    .text(id);

  // tick labels below bottom row
  if (row === 1) {
    const gl = gOver.append("g").attr("transform", `translate(0,${bot})`)
      .call(d3.axisBottom(x).tickValues(tickValues).tickSize(0).tickFormat(fmtTick));
    gl.select(".domain").remove();
    gl.selectAll("text")
      .attr("y", 94).attr("dy", null)
      .attr("font-family", FONT).attr("font-size", 96).attr("fill", "#000");
  }
});

// x-axis titles, one per figure
[[colLeft[0], colLeft[1] + panelW], [colLeft[2], colLeft[3] + panelW]].forEach(([a, b]) => {
  gOver.append("text")
    .attr("x", (a + b) / 2 - 3).attr("y", 1118)
    .attr("text-anchor", "middle")
    .attr("font-family", FONT).attr("font-size", 100).attr("fill", "#000")
    .text(xLabel);
});
</script>
</body></html>
